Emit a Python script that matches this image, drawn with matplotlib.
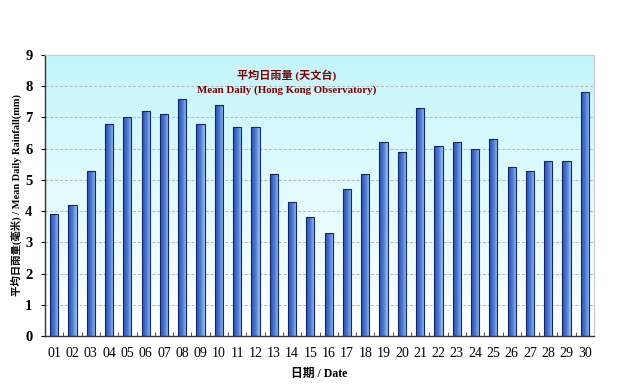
import numpy as np
import matplotlib
matplotlib.use("Agg")
from matplotlib import pyplot as plt
from matplotlib.colors import LinearSegmentedColormap

plt.rcParams['font.family'] = ['Liberation Serif', 'Noto Sans CJK TC']

days = ["%02d" % d for d in range(1, 31)]
rainfall = [3.9, 4.2, 5.3, 6.8, 7.0, 7.2, 7.1, 7.6, 6.8, 7.4,
            6.7, 6.7, 5.2, 4.3, 3.8, 3.3, 4.7, 5.2, 6.2, 5.9,
            7.3, 6.1, 6.2, 6.0, 6.3, 5.4, 5.3, 5.6, 5.6, 7.8]
y_ticks = list(range(0, 10))

title_zh = "平均日雨量 (天文台)"
title_en = "Mean Daily (Hong Kong Observatory)"
xlabel = "日期 / Date"
ylabel = "平均日雨量(毫米) / Mean Daily Rainfall(mm)"

fig = plt.figure(figsize=(6.35, 3.9), dpi=100)
ax = fig.add_axes([45 / 635, 54 / 390, 549 / 635, 281 / 390])

x = np.arange(len(days))
ax.set_xlim(-0.5, len(days) - 0.5)
ax.set_ylim(0, 9)

# background gradient: light cyan at top to white at bottom
bg = LinearSegmentedColormap.from_list("bg", ["#ffffff", "#e4fbfd", "#c2f6fb"])
ax.imshow(np.linspace(0, 1, 256).reshape(-1, 1), cmap=bg, aspect="auto",
          extent=(-0.5, len(days) - 0.5, 0, 9), origin="lower", zorder=0)

for yv in y_ticks[1:]:
    ax.axhline(yv, color="#b0b8c0", lw=0.7, ls=(0, (3, 2)), zorder=1)

bar_cmap = LinearSegmentedColormap.from_list("bar", ["#2a50b0", "#4a7ad2", "#a0c4f0"])
grad = np.linspace(0, 1, 64).reshape(1, -1)
bars = ax.bar(x, rainfall, width=0.45, color="none", edgecolor="#14246a", lw=0.8, zorder=3)
for b in bars:
    x0, w, h = b.get_x(), b.get_width(), b.get_height()
    im = ax.imshow(grad, cmap=bar_cmap, aspect="auto",
                   extent=(x0, x0 + w, 0, h), zorder=2)
    im.set_clip_path(b)

ax.set_xticks(x)
ax.set_xticklabels(days, fontsize=10)
ax.set_xticks(np.arange(-0.5, len(days), 1), minor=True)
ax.tick_params(axis="x", which="major", length=0, pad=8)
ax.tick_params(axis="x", which="minor", direction="in", length=3, color="#333333")
ax.set_yticks(y_ticks)
ax.set_yticklabels([str(v) for v in y_ticks], fontsize=10.5, fontweight="bold")
ax.tick_params(axis="y", direction="out", length=3, pad=6)

for side in ("top", "right"):
    ax.spines[side].set_color("#c8c8c8")
    ax.spines[side].set_linewidth(0.8)
for side in ("left", "bottom"):
    ax.spines[side].set_color("#333333")
    ax.spines[side].set_linewidth(1.0)

ax.text(0.44, 0.929, title_zh, transform=ax.transAxes, ha="center", va="center",
        fontsize=8, fontweight="bold", color="#7a0000")
ax.text(0.44, 0.875, title_en, transform=ax.transAxes, ha="center", va="center",
        fontsize=7.8, fontweight="bold", color="#7a0000")

ax.set_xlabel(xlabel, fontsize=8.5, fontweight="bold", labelpad=6)
ax.set_ylabel(ylabel, fontsize=7.5, fontweight="bold", labelpad=2)

fig.savefig("out.png", dpi=100)
